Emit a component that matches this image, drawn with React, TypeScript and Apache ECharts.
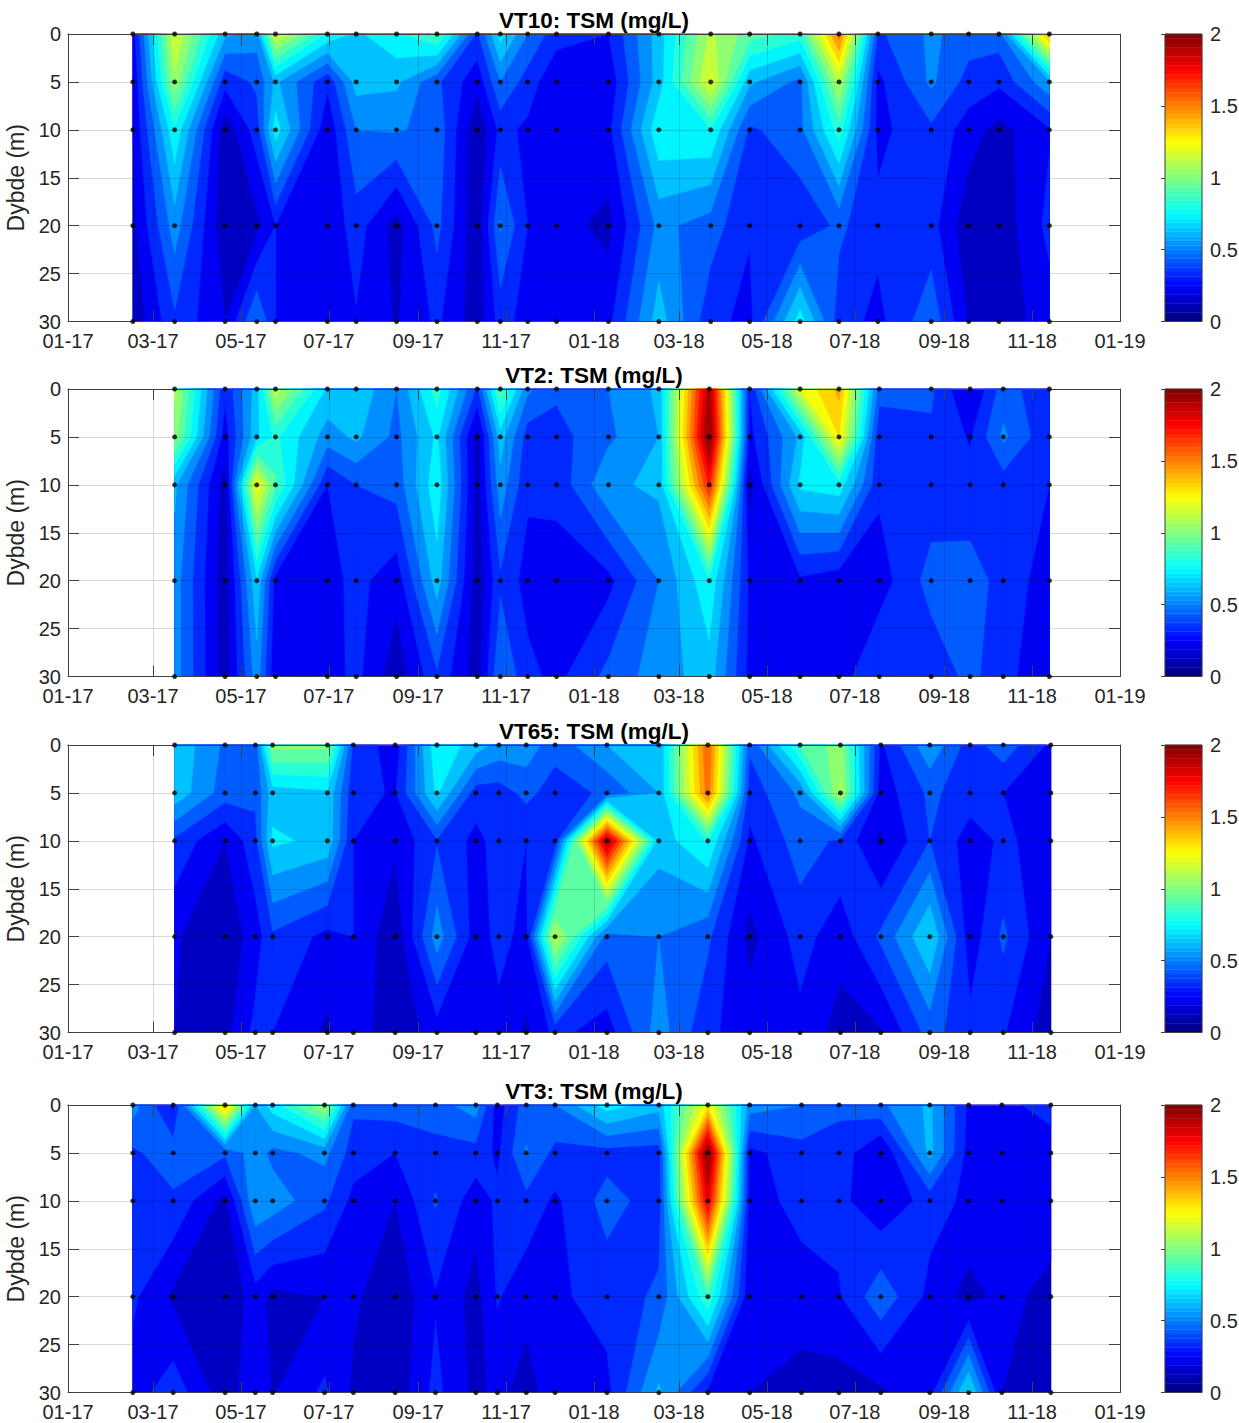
import React, { useEffect, useRef } from "react";
import * as echarts from "echarts";

const tickDays = [0, 59, 120, 181, 243, 304, 365, 424, 485, 546, 608, 669, 730];
const tickLabels = ["01-17", "03-17", "05-17", "07-17", "09-17", "11-17", "01-18", "03-18", "05-18", "07-18", "09-18", "11-18", "01-19"];
const depths = [0, 5, 10, 20, 30];
const titles = ["VT10: TSM (mg/L)", "VT2: TSM (mg/L)", "VT65: TSM (mg/L)", "VT3: TSM (mg/L)"];
const cbarTicks = [0, 0.5, 1, 1.5, 2];

const vt10Days = [45, 74, 109, 131, 144, 180, 200, 228, 256, 284, 300, 319, 339, 375, 410, 446, 473, 508, 535, 562, 599, 625, 646, 681];
const vt10 = [
  [0.25, 1.2, 0.62, 0.55, 1.2, 0.78, 0.68, 0.78, 0.92, 0.38, 0.74, 0.5, 0.34, 0.3, 0.65, 1.12, 0.95, 0.85, 1.55, 0.38, 0.52, 0.45, 0.45, 1.45],
  [0.2, 1.07, 0.33, 0.42, 0.62, 0.32, 0.64, 0.62, 0.42, 0.23, 0.5, 0.35, 0.22, 0.23, 0.65, 1.22, 0.62, 0.47, 1.12, 0.27, 0.52, 0.36, 0.32, 0.58],
  [0.2, 0.78, 0.13, 0.35, 0.75, 0.22, 0.5, 0.51, 0.47, 0.11, 0.33, 0.28, 0.22, 0.27, 0.78, 0.8, 0.38, 0.47, 0.85, 0.27, 0.38, 0.25, 0.16, 0.29],
  [0.17, 0.55, 0.12, 0.17, 0.3, 0.22, 0.35, 0.155, 0.43, 0.12, 0.51, 0.3, 0.24, 0.17, 0.53, 0.45, 0.31, 0.33, 0.42, 0.33, 0.34, 0.13, 0.13, 0.33],
  [0.12, 0.38, 0.2, 0.51, 0.3, 0.22, 0.29, 0.19, 0.32, 0.14, 0.34, 0.26, 0.23, 0.27, 0.65, 0.33, 0.27, 0.75, 0.35, 0.27, 0.47, 0.19, 0.14, 0.25],
];

const vt2Days = [74, 109, 131, 144, 180, 200, 228, 256, 284, 300, 319, 339, 375, 410, 445, 473, 508, 535, 563, 599, 626, 649, 681];
const vt2 = [
  [1.12, 0.32, 0.65, 1.15, 0.68, 0.68, 0.5, 0.85, 0.38, 0.95, 0.52, 0.42, 0.5, 0.62, 1.95, 0.3, 1.2, 1.43, 0.45, 0.42, 0.18, 0.45, 0.32],
  [1.05, 0.25, 0.68, 0.82, 0.55, 0.62, 0.47, 0.72, 0.15, 0.65, 0.35, 0.36, 0.48, 0.6, 2.05, 0.27, 0.62, 1.3, 0.31, 0.38, 0.29, 0.52, 0.32],
  [0.62, 0.15, 1.27, 0.92, 0.3, 0.4, 0.44, 0.77, 0.15, 0.56, 0.32, 0.33, 0.58, 0.62, 1.72, 0.15, 0.72, 0.76, 0.32, 0.34, 0.33, 0.35, 0.3],
  [0.55, 0.13, 0.68, 0.26, 0.26, 0.33, 0.24, 0.65, 0.13, 0.38, 0.26, 0.25, 0.27, 0.5, 0.78, 0.28, 0.28, 0.24, 0.25, 0.44, 0.45, 0.36, 0.25],
  [0.55, 0.14, 0.55, 0.22, 0.25, 0.33, 0.13, 0.38, 0.14, 0.5, 0.33, 0.27, 0.43, 0.55, 0.65, 0.27, 0.24, 0.25, 0.4, 0.33, 0.43, 0.33, 0.23],
];

const vt65Days = [74, 109, 130, 142, 180, 198, 227, 256, 283, 299, 318, 338, 374, 410, 444, 473, 508, 536, 564, 598, 626, 649, 682];
const vt65 = [
  [0.68, 0.48, 0.42, 1.04, 1.03, 0.38, 0.24, 0.78, 0.65, 0.57, 0.56, 0.44, 0.6, 0.6, 1.6, 0.42, 0.9, 1.05, 0.28, 0.58, 0.35, 0.46, 0.28],
  [0.67, 0.45, 0.42, 0.65, 0.68, 0.33, 0.29, 0.72, 0.35, 0.35, 0.43, 0.35, 0.42, 0.6, 1.55, 0.34, 0.52, 1.12, 0.24, 0.42, 0.35, 0.3, 0.26],
  [0.38, 0.2, 0.37, 0.72, 0.67, 0.3, 0.22, 0.39, 0.27, 0.34, 0.3, 0.33, 1.95, 0.64, 0.81, 0.28, 0.45, 0.38, 0.18, 0.4, 0.25, 0.32, 0.25],
  [0.21, 0.13, 0.25, 0.38, 0.27, 0.3, 0.12, 0.55, 0.25, 0.33, 0.27, 1.15, 0.45, 0.5, 0.42, 0.17, 0.34, 0.24, 0.42, 0.7, 0.24, 0.42, 0.2],
  [0.2, 0.16, 0.33, 0.3, 0.18, 0.26, 0.13, 0.25, 0.28, 0.27, 0.18, 0.33, 0.25, 0.55, 0.32, 0.25, 0.27, 0.16, 0.19, 0.44, 0.33, 0.31, 0.14],
];

const vt3Days = [45, 73, 109, 130, 142, 178, 198, 227, 255, 283, 298, 318, 338, 374, 410, 444, 473, 509, 535, 564, 598, 625, 648, 682];
const vt3 = [
  [0.55, 0.27, 1.4, 0.6, 0.75, 1.1, 0.42, 0.45, 0.46, 0.55, 0.25, 0.45, 0.5, 0.75, 0.64, 1.28, 0.55, 0.5, 0.42, 0.48, 0.62, 0.28, 0.28, 0.33],
  [0.38, 0.46, 0.42, 0.55, 0.47, 0.53, 0.35, 0.3, 0.36, 0.36, 0.28, 0.51, 0.37, 0.36, 0.35, 2.05, 0.27, 0.36, 0.36, 0.19, 0.63, 0.26, 0.27, 0.26],
  [0.33, 0.38, 0.17, 0.59, 0.56, 0.42, 0.27, 0.2, 0.41, 0.24, 0.32, 0.37, 0.28, 0.44, 0.35, 1.82, 0.26, 0.33, 0.33, 0.22, 0.34, 0.28, 0.25, 0.25],
  [0.32, 0.18, 0.12, 0.25, 0.17, 0.2, 0.22, 0.12, 0.29, 0.16, 0.31, 0.23, 0.28, 0.34, 0.42, 0.88, 0.22, 0.26, 0.29, 0.47, 0.27, 0.16, 0.23, 0.17],
  [0.25, 0.36, 0.14, 0.28, 0.19, 0.32, 0.18, 0.13, 0.33, 0.17, 0.23, 0.16, 0.25, 0.27, 0.62, 0.28, 0.2, 0.15, 0.15, 0.18, 0.26, 0.72, 0.2, 0.12],
];

const panelDays = [vt10Days, vt2Days, vt65Days, vt3Days];
const panelValues = [vt10, vt2, vt65, vt3];
const panelTops = [34, 389, 745, 1105];
const PLOT_H = 287.5;

function jet(t: number): string {
  const c = (x: number) => Math.round(255 * Math.max(0, Math.min(1, x)));
  const r = c(Math.min(4 * t - 1.5, -4 * t + 4.5));
  const g = c(Math.min(4 * t - 0.5, -4 * t + 3.5));
  const b = c(Math.min(4 * t + 0.5, -4 * t + 2.5));
  return `rgb(${r},${g},${b})`;
}

type Poly = { pts: number[][]; color: string };

// Region of one grid cell that lies at or above a contour level (marching squares, straight edges).
function regionAbove(cs: number[][], level: number): number[][][] {
  const cross = (p: number[], q: number[]) => {
    const t = (level - p[2]) / (q[2] - p[2]);
    return [p[0] + t * (q[0] - p[0]), p[1] + t * (q[1] - p[1])];
  };
  const high = cs.map((v) => v[2] >= level);
  const nHigh = high.filter(Boolean).length;
  if (nHigh === 0) return [];
  const mean = (cs[0][2] + cs[1][2] + cs[2][2] + cs[3][2]) / 4;
  const saddle = nHigh === 2 && high[0] === high[2];
  if (saddle && mean < level) {
    const parts: number[][][] = [];
    cs.forEach((v, i) => {
      if (!high[i]) return;
      const prev = cs[(i + 3) % 4];
      const next = cs[(i + 1) % 4];
      parts.push([[v[0], v[1]], cross(v, next), cross(v, prev)]);
    });
    return parts;
  }
  const pts: number[][] = [];
  cs.forEach((p, i) => {
    const q = cs[(i + 1) % 4];
    if (high[i]) pts.push([p[0], p[1]]);
    if (high[i] !== high[(i + 1) % 4]) pts.push(cross(p, q));
  });
  return [pts];
}

function bandPolygons(days: number[], rows: number[][]): Poly[] {
  const out: Poly[] = [];
  for (let k = 0; k < 20; k++) {
    const level = k / 10;
    const color = jet((level + 0.03) / 2);
    for (let r = 0; r < depths.length - 1; r++) {
      for (let c = 0; c < days.length - 1; c++) {
        const cs = [
          [days[c], depths[r], rows[r][c]],
          [days[c + 1], depths[r], rows[r][c + 1]],
          [days[c + 1], depths[r + 1], rows[r + 1][c + 1]],
          [days[c], depths[r + 1], rows[r + 1][c]],
        ];
        regionAbove(cs, level).forEach((pts) => {
          if (pts.length >= 3) out.push({ pts, color });
        });
      }
    }
  }
  return out;
}

const FONT = "Liberation Sans";
const TEXT = "#262626";
const AXIS = "#404040";
const PLOT_LEFT = 68;
const PLOT_W = 1052;

function buildOption() {
  const grid: any[] = [];
  const xAxis: any[] = [];
  const yAxis: any[] = [];
  const series: any[] = [];
  const title: any[] = [];
  const steps = Array.from({ length: 64 }, (_, i) => i);

  panelTops.forEach((top, i) => {
    const gridIndex = grid.length;
    grid.push({ left: PLOT_LEFT, width: PLOT_W, top, height: PLOT_H, containLabel: false, outerBoundsMode: "none" });
    const grid2 = grid.length;
    grid.push({ left: 1165, width: 37, top, height: PLOT_H, containLabel: false, outerBoundsMode: "none" });

    title.push({
      text: titles[i],
      left: 589,
      top: top - 30,
      textAlign: "center",
      textStyle: { fontFamily: FONT, fontSize: 22.5, fontWeight: "bold", color: "#000" },
    });

    const xBase = {
      type: "value",
      gridIndex,
      min: 0,
      max: 730,
      z: 10,
      axisLine: { show: true, onZero: false, lineStyle: { color: AXIS, width: 1 } },
      axisTick: { show: true, inside: true, length: 11, customValues: tickDays, lineStyle: { color: AXIS } },
    };
    const xMain = xAxis.length;
    xAxis.push({
      ...xBase,
      position: "bottom",
      splitLine: { show: true, lineStyle: { color: "rgba(0,0,0,0.15)", width: 1 } },
      axisLabel: {
        show: true,
        customValues: tickDays,
        margin: 9.5,
        showMinLabel: true,
        showMaxLabel: true,
        hideOverlap: false,
        fontFamily: FONT,
        fontSize: 20,
        color: TEXT,
        formatter: (v: number) => tickLabels[tickDays.indexOf(v)] ?? "",
      },
    });
    xAxis.push({ ...xBase, position: "top", splitLine: { show: false }, axisLabel: { show: false } });

    const yBase = {
      type: "value",
      gridIndex,
      min: 0,
      max: 30,
      interval: 5,
      inverse: true,
      z: 10,
      axisLine: { show: true, onZero: false, lineStyle: { color: AXIS, width: 1 } },
      axisTick: { show: true, inside: true, length: 11, lineStyle: { color: AXIS } },
    };
    const yMain = yAxis.length;
    yAxis.push({
      ...yBase,
      position: "left",
      name: "Dybde (m)",
      nameLocation: "middle",
      nameRotate: 90,
      nameGap: 29,
      nameTextStyle: { fontFamily: FONT, fontSize: 23, color: TEXT },
      splitLine: { show: true, lineStyle: { color: "rgba(0,0,0,0.15)", width: 1 } },
      axisLabel: { show: true, margin: 7, fontFamily: FONT, fontSize: 20, color: TEXT },
    });
    yAxis.push({ ...yBase, position: "right", splitLine: { show: false }, axisLabel: { show: false } });

    const polys = bandPolygons(panelDays[i], panelValues[i]);
    series.push({
      type: "custom",
      coordinateSystem: "cartesian2d",
      xAxisIndex: xMain,
      yAxisIndex: yMain,
      z: 2,
      silent: true,
      animation: false,
      data: polys.map((_, n) => [n, 0]),
      renderItem: (params: any, api: any) => {
        const p = polys[params.dataIndex];
        return {
          type: "polygon",
          shape: { points: p.pts.map((q) => api.coord(q)) },
          style: { fill: p.color, stroke: p.color, lineWidth: 0.5 },
        };
      },
    });

    series.push({
      type: "scatter",
      xAxisIndex: xMain,
      yAxisIndex: yMain,
      z: 12,
      silent: true,
      clip: false,
      symbolSize: 5,
      itemStyle: { color: "#000" },
      data: panelDays[i].flatMap((d) => depths.map((m) => [d, m])),
    });

    const xBar = xAxis.length;
    xAxis.push({
      type: "value",
      gridIndex: grid2,
      min: 0,
      max: 1,
      show: false,
    });
    const yBar = yAxis.length;
    yAxis.push({
      type: "value",
      gridIndex: grid2,
      min: 0,
      max: 2,
      interval: 0.5,
      position: "right",
      z: 10,
      axisLine: { show: false },
      axisTick: { show: true, inside: true, length: 4, lineStyle: { color: AXIS } },
      splitLine: { show: false },
      axisLabel: {
        show: true,
        margin: 8,
        fontFamily: FONT,
        fontSize: 20,
        color: TEXT,
        customValues: cbarTicks,
        formatter: (v: number) => String(v),
      },
    });
    series.push({
      type: "custom",
      coordinateSystem: "cartesian2d",
      xAxisIndex: xBar,
      yAxisIndex: yBar,
      z: 2,
      silent: true,
      data: [...steps.map((s) => [0, s]), [0, -1]],
      renderItem: (params: any, api: any) => {
        const s = api.value(1);
        if (s < 0) {
          const a = api.coord([0, 2]);
          const b = api.coord([1, 0]);
          return {
            type: "rect",
            z2: 5,
            shape: { x: a[0], y: a[1], width: b[0] - a[0], height: b[1] - a[1] },
            style: { fill: "none", stroke: AXIS, lineWidth: 1 },
          };
        }
        const a = api.coord([0, ((s + 1) * 2) / 64]);
        const b = api.coord([1, (s * 2) / 64]);
        const color = jet((s + 0.5) / 64);
        return {
          type: "rect",
          shape: { x: a[0], y: a[1], width: b[0] - a[0], height: b[1] - a[1] },
          style: { fill: color, stroke: color, lineWidth: 0.4 },
        };
      },
    });
  });

  return { animation: false, backgroundColor: "#fff", title, grid, xAxis, yAxis, series };
}

export default function App() {
  const ref = useRef<HTMLDivElement>(null);
  useEffect(() => {
    if (!ref.current) return;
    const chart = echarts.init(ref.current, undefined, { renderer: "svg" });
    chart.setOption(buildOption() as any);
    return () => chart.dispose();
  }, []);
  return <div ref={ref} style={{ position: "absolute", left: 0, top: 0, width: 1239, height: 1423 }} />;
}
